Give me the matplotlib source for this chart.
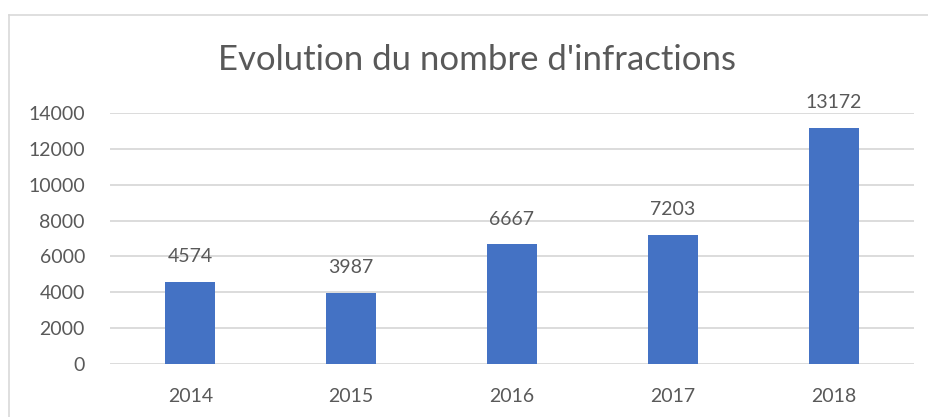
import matplotlib.pyplot as plt
from matplotlib.lines import Line2D

# ==========================================
# DATA
# ==========================================

years  = ["2014", "2015", "2016", "2017", "2018"]
counts = [4574, 3987, 6667, 7203, 13172]
yticks = [0, 2000, 4000, 6000, 8000, 10000, 12000, 14000]

TITLE      = "Evolution du nombre d'infractions"
BAR_COLOR  = "#4472C4"
TEXT_COLOR = "#595959"
GRID_COLOR = "#D9D9D9"

plt.rcParams["font.family"] = ["Lato", "DejaVu Sans"]

# ==========================================
# PLOT
# ==========================================

W, H = 929, 417
fig = plt.figure(figsize=(W / 100, H / 100), dpi=100)
ax = fig.add_axes([110 / W, 1 - 364 / H, 804 / W, 251 / H])

x = range(len(years))
bars = ax.bar(x, counts, width=0.31, color=BAR_COLOR, zorder=3)

for xi, v in zip(x, counts):
    ax.annotate(str(v), (xi, v), xytext=(0, 18), textcoords="offset points",
                ha="center", va="center", fontsize=14, color=TEXT_COLOR)

ax.set_xlim(-0.5, len(years) - 0.5)
ax.set_ylim(0, 14000)
ax.set_yticks(yticks)
ax.set_yticklabels([str(t) for t in yticks])
ax.set_xticks(list(x))
ax.set_xticklabels(years)
ax.tick_params(axis="both", length=0, labelsize=14, labelcolor=TEXT_COLOR)
ax.tick_params(axis="y", pad=18)
ax.tick_params(axis="x", pad=17)
ax.yaxis.grid(True, color=GRID_COLOR, linewidth=1.3, zorder=0)
ax.set_axisbelow(True)
for s in ax.spines.values():
    s.set_visible(False)

fig.text(477 / W, 1 - 60 / H, TITLE, ha="center", va="center",
         fontsize=25, color=TEXT_COLOR)

# chart frame (only top and left edges are visible in the crop)
fx = 9.5 / W
fy = 1 - 14.5 / H
fig.add_artist(Line2D([fx, fx], [0, fy], color=GRID_COLOR, linewidth=1.2,
                      transform=fig.transFigure))
fig.add_artist(Line2D([fx, 1], [fy, fy], color=GRID_COLOR, linewidth=1.2,
                      transform=fig.transFigure))

fig.savefig("out.png", dpi=100, facecolor="white")
